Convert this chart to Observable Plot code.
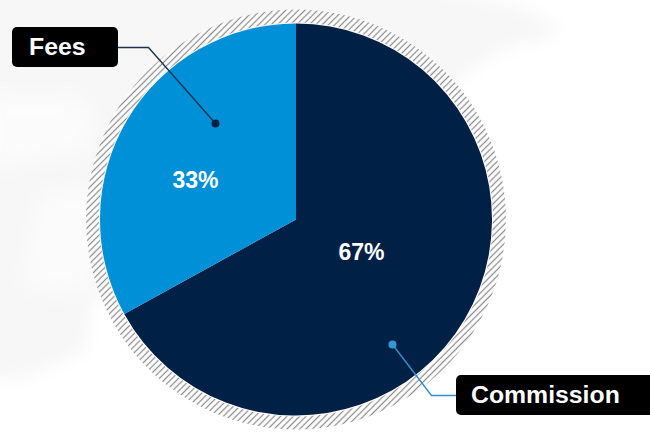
<!DOCTYPE html>
<html>
<head>
<meta charset="utf-8">
<script src="https://cdn.jsdelivr.net/npm/d3@7"></script>
<script src="https://cdn.jsdelivr.net/npm/@observablehq/plot@0.6"></script>
<style>
  html, body { margin: 0; padding: 0; background: #fff; }
  svg { display: block; }
</style>
</head>
<body>
<div id="chart"></div>
<script>
// Revenue split
const categories = ["Commission", "Fees"];
const shares = [67, 33];
const sliceColors = ["#002145", "#0090d8"];
const shareLabels = ["67%", "33%"];
const shareLabelX = [361, 195];
const shareLabelY = [252, 180];

// Callout boxes and their leader lines
const calloutText = ["Commission", "Fees"];
const calloutX1 = [456, 12];
const calloutX2 = [654, 118];
const calloutY1 = [375, 27];
const calloutY2 = [415, 67];
const calloutTextX = [470.5, 28.5];
const calloutTextY = [395, 47];
const leaderX = [[392, 431, 456], [215, 148, 118]];
const leaderY = [[344, 395, 395], [123, 47, 47]];
const leaderColors = ["#3190c8", "#1d3350"];
const dotColors = ["#2f9ad6", "#002145"];

// Faint world-map backdrop
const landX = [-30, 300, 440, 520, 562, 545, 500, 470, 300, 92, 85, 30, -30];
const landY = [-30, -30, -10, 6, 28, 38, 50, 70, 200, 300, 350, 375, 385];
const landGapX = [[-20, 90, 95, -20], [40, 110, 90, 20]];
const landGapY = [[95, 95, 150, 170], [190, 190, 290, 290]];

const pieCenter = {x: 296, y: 219.5};
const pieRadius = 196;
const ringInner = 197;
const ringOuter = 210;

const slices = d3.pie().sort(null)(shares);
const layout = {x: {domain: [0, 650], range: [0, 650], axis: null}, y: {domain: [0, 432], range: [0, 432], axis: null}};

// Hatched ring behind the pie, then the two wedges
function pieMark(index, {x, y}) {
  const spacing = 4.5;
  const svg = d3.create("svg:g")
    .attr("transform", `translate(${x(pieCenter.x)},${y(pieCenter.y)})`);
  const pattern = svg.append("defs").append("pattern")
    .attr("id", "ring-hatch").attr("patternUnits", "userSpaceOnUse")
    .attr("width", spacing).attr("height", spacing)
    .attr("patternTransform", "rotate(45)");
  pattern.append("line")
    .attr("x1", spacing / 2).attr("x2", spacing / 2).attr("y1", 0).attr("y2", spacing)
    .attr("stroke", "#8c8c8c").attr("stroke-width", 1.25);
  const ring = d3.arc()({innerRadius: ringInner, outerRadius: ringOuter, startAngle: 0, endAngle: 2 * Math.PI});
  svg.append("path").attr("d", ring).attr("fill", "#fff");
  svg.append("path").attr("d", ring).attr("fill", "url(#ring-hatch)");
  const arc = d3.arc().innerRadius(0).outerRadius(pieRadius);
  svg.selectAll(".slice").data(slices).join("path")
    .attr("class", "slice")
    .attr("d", arc)
    .attr("fill", (d, i) => sliceColors[i]);
  return svg.node();
}

const font = "'Liberation Sans', Arial, sans-serif";

const plot = Plot.plot({
  width: 650,
  height: 432,
  margin: 0,
  ...layout,
  style: {background: "transparent", fontFamily: font},
  marks: [
    Plot.line(landX.map((v, i) => [v, landY[i]]), {
      x: "0", y: "1", fill: "#f7f7f7", stroke: "none", imageFilter: "blur(8px)"
    }),
    ...landGapX.map((xs, k) => Plot.line(xs.map((v, i) => [v, landGapY[k][i]]), {
      x: "0", y: "1", fill: "#fbfbfb", stroke: "none", imageFilter: "blur(12px)"
    })),
    pieMark,
    ...leaderX.map((xs, k) => Plot.line(xs.map((v, i) => [v, leaderY[k][i]]), {
      x: "0", y: "1", stroke: leaderColors[k], strokeWidth: 1.4
    })),
    Plot.dot(categories, {
      x: (d, i) => leaderX[i][0], y: (d, i) => leaderY[i][0],
      r: 4, fill: (d, i) => dotColors[i], stroke: "none"
    }),
    Plot.rect(calloutText, {
      x1: (d, i) => calloutX1[i], x2: (d, i) => calloutX2[i],
      y1: (d, i) => calloutY1[i], y2: (d, i) => calloutY2[i],
      fill: "#000", rx: 5
    }),
    Plot.text(calloutText, {
      x: (d, i) => calloutTextX[i], y: (d, i) => calloutTextY[i], text: d => d,
      textAnchor: "start", fill: "#fff", fontSize: 24.8, fontWeight: 700
    }),
    Plot.text(shareLabels, {
      x: (d, i) => shareLabelX[i], y: (d, i) => shareLabelY[i], text: d => d,
      fill: "#fff", fontSize: 23, fontWeight: 700
    })
  ]
});
document.getElementById("chart").append(plot);
</script>
</body>
</html>
